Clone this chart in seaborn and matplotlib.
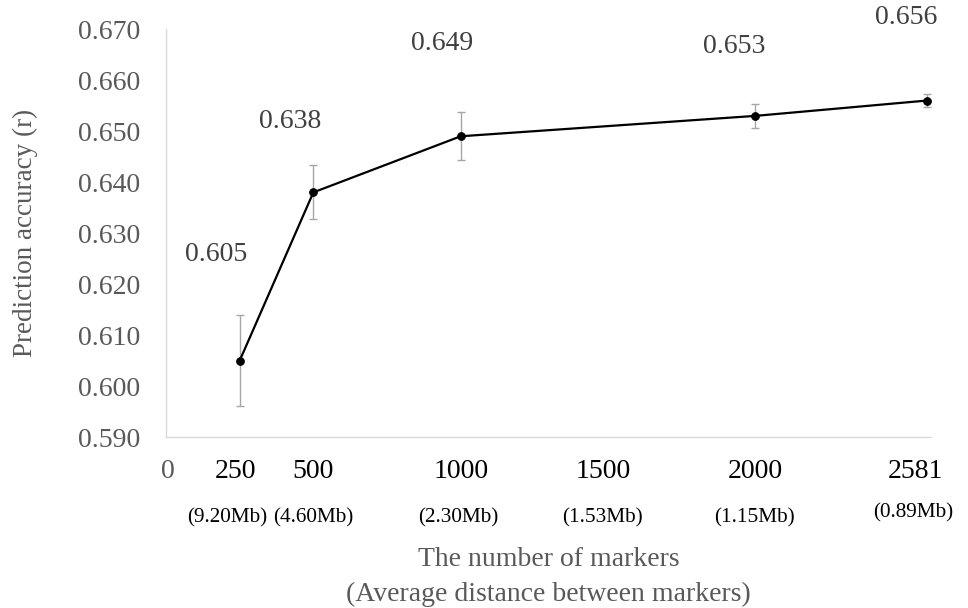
import matplotlib
matplotlib.use("Agg")
import matplotlib.pyplot as plt
import matplotlib.transforms as mtransforms
import seaborn as sns
import pandas as pd

# Number of markers and resulting prediction accuracy
markers = [250, 500, 1000, 2000, 2581]
accuracy = [0.605, 0.638, 0.649, 0.653, 0.656]
acc_err = [0.0089, 0.0053, 0.0047, 0.0023, 0.0013]

# Axis labelling
x_ticks = [0, 250, 500, 1000, 1500, 2000, 2581]
distance_labels = ["(9.20Mb)", "(4.60Mb)", "(2.30Mb)", "(1.53Mb)", "(1.15Mb)", "(0.89Mb)"]
y_ticks = [0.590, 0.600, 0.610, 0.620, 0.630, 0.640, 0.650, 0.660, 0.670]

sns.set_theme(style="white")
plt.rcParams["font.family"] = ["Liberation Serif", "DejaVu Serif"]

df = pd.DataFrame({"markers": markers, "accuracy": accuracy})

fig = plt.figure(figsize=(9.68, 6.08), dpi=100)
ax = fig.add_axes([0.1715, 0.281, 0.79, 0.671])

ax.errorbar(markers, accuracy, yerr=acc_err, fmt="none", ecolor="#a6a6a6",
            elinewidth=1.0, capsize=3, capthick=1.0, zorder=2)
sns.lineplot(data=df, x="markers", y="accuracy", ax=ax, color="black",
             linewidth=1.6, marker="o", markersize=5.5, markeredgecolor="black",
             zorder=3)

# Value labels above each point
label_offsets = [(-24, 106), (-23, 71), (-19, 93), (-21, 69), (-20, 83)]
for x, y, (dx, dy) in zip(markers, accuracy, label_offsets):
    ax.annotate(f"{y:.3f}", (x, y), xytext=(dx, dy), textcoords="offset pixels",
                ha="center", va="center", fontsize=20, color="#404040")

ax.set_xlim(0, 2595)
ax.set_ylim(0.590, 0.670)
ax.set_yticks(y_ticks)
ax.set_yticklabels([f"{v:.3f}" for v in y_ticks], fontsize=20, color="#595959")
ax.set_xticks(x_ticks)
ax.set_xticklabels([])
ax.tick_params(axis="y", length=0, pad=18.5)
ax.tick_params(axis="x", length=0)

# Marker counts and average marker spacing below the axis
trans = mtransforms.blended_transform_factory(ax.transData, ax.transAxes)
count_shift = [2, -4, 0, 0, -5, 0, -11]
for x, dx in zip(x_ticks, count_shift):
    t = mtransforms.offset_copy(trans, fig=fig, x=dx, y=0, units="dots")
    ax.text(x, -0.083, str(x), transform=t, ha="center", va="center",
            fontsize=20, color="#595959" if x == 0 else "black")

dist_shift = [(-12, 0), (0, 0), (-2, 0), (-6, 0), (-1, 0), (-13, 5)]
for x, txt, (dx, dy) in zip(x_ticks[1:], distance_labels, dist_shift):
    t = mtransforms.offset_copy(trans, fig=fig, x=dx, y=dy, units="dots")
    ax.text(x, -0.1985, txt, transform=t, ha="center", va="center",
            fontsize=15.3, color="black")

ax.set_xlabel("The number of markers\n(Average distance between markers)",
              fontsize=20, color="#595959", labelpad=75.5, linespacing=1.5)
ax.set_ylabel("Prediction accuracy (r)", fontsize=19.5, color="#595959")
ax.yaxis.set_label_coords(-0.1674, 0.5)

for side in ["top", "right"]:
    ax.spines[side].set_visible(False)
for side in ["left", "bottom"]:
    ax.spines[side].set_color("#d9d9d9")
    ax.spines[side].set_linewidth(1.0)

fig.savefig("out.png", dpi=100)
